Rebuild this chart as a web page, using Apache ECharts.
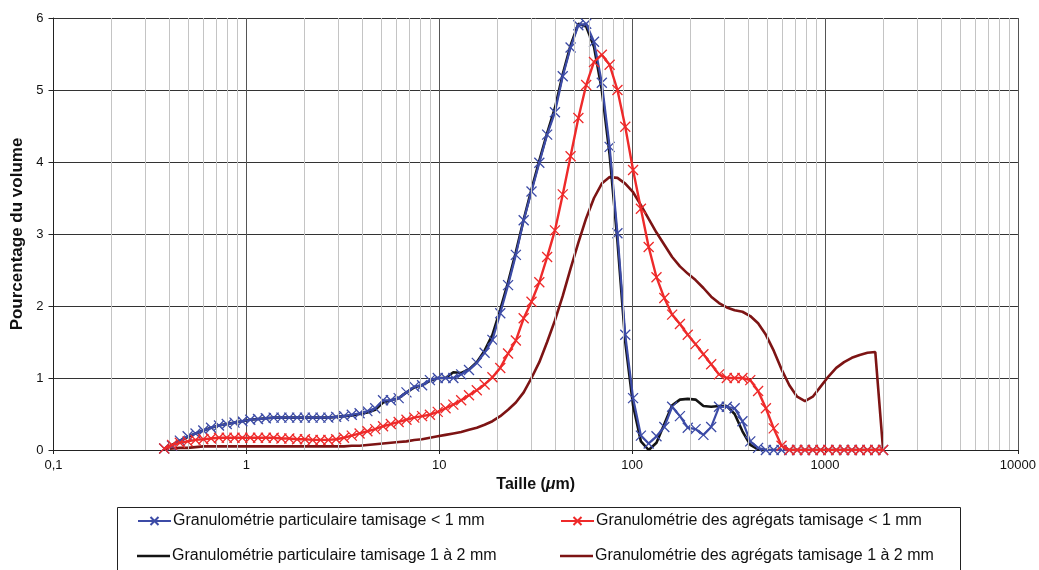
<!DOCTYPE html>
<html>
<head>
<meta charset="utf-8">
<script src="https://cdn.jsdelivr.net/npm/echarts@6/dist/echarts.min.js"></script>
<style>
html,body{margin:0;padding:0;background:#fff;}
#c{width:1039px;height:570px;}
</style>
</head>
<body>
<div id="c"></div>
<script>
// Particle size classes (µm)
var sizes = [
0.375, 0.412, 0.452, 0.496, 0.545, 0.598, 0.656, 0.721, 0.791, 0.868,
0.953, 1.047, 1.149, 1.261, 1.385, 1.520, 1.668, 1.832, 2.011, 2.207,
2.423, 2.660, 2.920, 3.205, 3.519, 3.863, 4.240, 4.655, 5.110, 5.610,
6.158, 6.760, 7.421, 8.147, 8.943, 9.818, 10.78, 11.83, 12.99, 14.26,
15.65, 17.18, 18.86, 20.71, 22.73, 24.95, 27.39, 30.07, 33.01, 36.24,
39.78, 43.67, 47.94, 52.62, 57.77, 63.41, 69.61, 76.42, 83.89, 92.09,
101.1, 111.0, 121.8, 133.7, 146.8, 161.2, 176.9, 194.2, 213.2, 234.1,
256.9, 282.1, 309.6, 339.9, 373.1, 409.6, 449.7, 493.6, 541.9, 594.9,
653.0, 716.8, 786.9, 863.9, 948.3, 1041, 1143, 1255, 1377, 1512,
1660, 1822, 2000
];

// Granulométrie particulaire tamisage < 1 mm
var partLt1 = [
0.02, 0.06, 0.13, 0.19, 0.23, 0.27, 0.31, 0.34, 0.36, 0.38,
0.40, 0.42, 0.43, 0.44, 0.45, 0.45, 0.45, 0.45, 0.45, 0.45,
0.45, 0.45, 0.46, 0.47, 0.49, 0.51, 0.54, 0.58, 0.69, 0.69,
0.72, 0.80, 0.88, 0.90, 0.97, 1.00, 1.00, 1.00, 1.05, 1.11,
1.21, 1.35, 1.53, 1.90, 2.29, 2.71, 3.19, 3.59, 3.99, 4.38,
4.69, 5.19, 5.59, 5.90, 5.92, 5.67, 5.10, 4.21, 3.01, 1.60,
0.72, 0.20, 0.09, 0.19, 0.32, 0.60, 0.47, 0.31, 0.29, 0.21,
0.32, 0.60, 0.60, 0.58, 0.40, 0.12, 0.03, 0, 0, 0,
0, 0, 0, 0, 0, 0, 0, 0, 0, 0,
0, 0, 0
];

// Granulométrie des agrégats tamisage < 1 mm
var aggLt1 = [
0.02, 0.07, 0.10, 0.12, 0.14, 0.15, 0.16, 0.17, 0.17, 0.17,
0.17, 0.17, 0.17, 0.17, 0.17, 0.16, 0.16, 0.15, 0.15, 0.14,
0.14, 0.14, 0.15, 0.17, 0.20, 0.23, 0.26, 0.29, 0.33, 0.36,
0.39, 0.42, 0.45, 0.47, 0.49, 0.53, 0.58, 0.63, 0.69, 0.76,
0.83, 0.91, 1.01, 1.14, 1.34, 1.52, 1.83, 2.06, 2.33, 2.68,
3.05, 3.55, 4.08, 4.61, 5.07, 5.39, 5.49, 5.35, 5.00, 4.49,
3.89, 3.35, 2.82, 2.40, 2.11, 1.88, 1.75, 1.60, 1.47, 1.33,
1.19, 1.05, 1.00, 1.00, 1.00, 0.97, 0.82, 0.58, 0.30, 0.06,
0, 0, 0, 0, 0, 0, 0, 0, 0, 0,
0, 0, 0
];

// Granulométrie particulaire tamisage 1 à 2 mm
var part1to2 = [
0.02, 0.07, 0.13, 0.18, 0.23, 0.27, 0.31, 0.34, 0.36, 0.38,
0.40, 0.42, 0.43, 0.44, 0.45, 0.45, 0.45, 0.45, 0.45, 0.45,
0.45, 0.45, 0.46, 0.47, 0.48, 0.50, 0.52, 0.56, 0.66, 0.69,
0.72, 0.80, 0.87, 0.90, 0.96, 1.00, 1.00, 1.08, 1.07, 1.12,
1.22, 1.38, 1.60, 1.95, 2.33, 2.75, 3.20, 3.62, 4.02, 4.40,
4.75, 5.22, 5.62, 5.92, 5.88, 5.60, 5.00, 4.10, 2.90, 1.50,
0.62, 0.12, 0.00, 0.10, 0.36, 0.62, 0.70, 0.71, 0.70, 0.61,
0.60, 0.61, 0.61, 0.50, 0.26, 0.07, 0.01, 0, 0, 0,
0, 0, 0, 0, 0, 0, 0, 0, 0, 0,
0, 0, 0
];

// Granulométrie des agrégats tamisage 1 à 2 mm
var agg1to2 = [
0.01, 0.02, 0.03, 0.03, 0.04, 0.05, 0.05, 0.05, 0.05, 0.05,
0.05, 0.05, 0.05, 0.05, 0.05, 0.05, 0.05, 0.05, 0.05, 0.05,
0.05, 0.05, 0.05, 0.05, 0.06, 0.06, 0.07, 0.08, 0.09, 0.10,
0.11, 0.12, 0.14, 0.15, 0.17, 0.19, 0.21, 0.23, 0.25, 0.28,
0.31, 0.35, 0.40, 0.47, 0.56, 0.66, 0.80, 1.00, 1.22, 1.50,
1.80, 2.14, 2.52, 2.88, 3.22, 3.50, 3.70, 3.79, 3.78, 3.70,
3.58, 3.40, 3.21, 3.02, 2.85, 2.68, 2.55, 2.45, 2.36, 2.25,
2.13, 2.04, 1.98, 1.94, 1.92, 1.86, 1.76, 1.60, 1.38, 1.12,
0.90, 0.74, 0.68, 0.74, 0.88, 1.02, 1.14, 1.22, 1.28, 1.32,
1.35, 1.36, 0
];

var seriesNames = [
  'Granulométrie particulaire tamisage < 1 mm',
  'Granulométrie des agrégats tamisage < 1 mm',
  'Granulométrie particulaire tamisage 1 à 2 mm',
  'Granulométrie des agrégats tamisage 1 à 2 mm'
];

// Minor (2..9) grid values on the log axis
var minorGridValues = [
0.2,0.3,0.4,0.5,0.6,0.7,0.8,0.9,
2,3,4,5,6,7,8,9,
20,30,40,50,60,70,80,90,
200,300,400,500,600,700,800,900,
2000,3000,4000,5000,6000,7000,8000,9000
];

function pairs(vals){ return sizes.map(function(s,i){ return [s, vals[i]]; }); }

var FONT = '"Liberation Sans", Arial, sans-serif';
var XSYM = 'path://M0,0L10,10M10,0L0,10';
// plain line icon (tiny corner points keep the full 33x10 box)
var LINEICON = 'path://M0,0L0.01,0L0,0.01Z M0,3.7L33,3.7L33,6.3L0,6.3Z M33,10L32.99,10L33,9.99Z';
var cBlue = '#3c4ba6', cRed = '#ee2a2a', cBlack = '#141414', cDark = '#7d1414';

var chart = echarts.init(document.getElementById('c'), null, {renderer:'canvas'});
var legendText = {fontFamily: FONT, fontSize: 16, color: '#111', padding: [0,0,0,-3]};
function mkLegend(item, left, top){
  return {data: [item], left: left, top: top, orient: 'horizontal',
    itemWidth: 33, itemHeight: 10, itemGap: 0, padding: 0, selectedMode: false,
    textStyle: legendText};
}
var option = {
  animation: false,
  backgroundColor: '#fff',
  textStyle: {fontFamily: FONT},
  grid: {left: 53.5, right: 19, top: 18, bottom: 120, containLabel: false},
  xAxis: {
    type: 'log', logBase: 10, min: 0.1, max: 10000,
    name: 'Taille ({i|μ}m)', nameLocation: 'middle', nameGap: 18,
    nameTextStyle: {fontFamily: FONT, fontSize: 16, fontWeight: 'bold', color: '#111',
      rich: {i: {fontFamily: FONT, fontSize: 16, fontWeight: 'bold', fontStyle: 'italic', color: '#111'}}},
    axisLine: {show: true, onZero: false, lineStyle: {color: '#222', width: 1}},
    axisTick: {show: true, inside: false, length: 4, lineStyle: {color: '#222'}},
    axisLabel: {fontFamily: FONT, fontSize: 13, color: '#111', margin: 9,
      formatter: function(v){ return String(v).replace('.', ','); }},
    splitLine: {show: true, lineStyle: {color: '#555', width: 1}}
  },
  yAxis: {
    type: 'value', min: 0, max: 6, interval: 1,
    name: 'Pourcentage du volume', nameLocation: 'middle', nameGap: 27, nameRotate: 90,
    nameTextStyle: {fontFamily: FONT, fontSize: 17, fontWeight: 'bold', color: '#111'},
    axisLine: {show: true, lineStyle: {color: '#222', width: 1}},
    axisTick: {show: true, inside: false, length: 5, lineStyle: {color: '#222'}},
    axisLabel: {fontFamily: FONT, fontSize: 13, color: '#111', margin: 10},
    splitLine: {show: true, lineStyle: {color: '#333', width: 1}}
  },
  legend: [
    mkLegend({name: seriesNames[0]}, 137, 513),
    mkLegend({name: seriesNames[1]}, 560, 513),
    mkLegend({name: seriesNames[2], icon: LINEICON}, 137, 548),
    mkLegend({name: seriesNames[3], icon: LINEICON}, 560, 548)
  ],
  graphic: [{
    type: 'rect', left: 115, top: 505, silent: true,
    shape: {x: 0, y: 0, width: 843, height: 80},
    style: {fill: 'none', stroke: '#222', lineWidth: 1}
  }],
  series: [
    {
      name: 'minor-grid', type: 'line', data: [], z: 1, silent: true,
      markLine: {
        silent: true, symbol: ['none','none'], label: {show: false},
        lineStyle: {color: '#c4c4c4', type: 'solid', width: 1},
        emphasis: {disabled: true},
        data: minorGridValues.map(function(v){ return {xAxis: v}; })
      }
    },
    {
      name: seriesNames[3], type: 'line', data: pairs(agg1to2), z: 2,
      showSymbol: false, symbol: 'none', smooth: false,
      lineStyle: {color: cDark, width: 2.6}, itemStyle: {color: cDark}
    },
    {
      name: seriesNames[2], type: 'line', data: pairs(part1to2), z: 3,
      showSymbol: false, symbol: 'none', smooth: false,
      lineStyle: {color: cBlack, width: 2.6}, itemStyle: {color: cBlack}
    },
    {
      name: seriesNames[0], type: 'line', data: pairs(partLt1), z: 4,
      symbol: XSYM, symbolSize: 10, showAllSymbol: true,
      lineStyle: {color: cBlue, width: 2.2},
      itemStyle: {color: cBlue, borderColor: cBlue, borderWidth: 1.3}
    },
    {
      name: seriesNames[1], type: 'line', data: pairs(aggLt1), z: 5,
      symbol: XSYM, symbolSize: 10, showAllSymbol: true,
      lineStyle: {color: cRed, width: 2.4},
      itemStyle: {color: cRed, borderColor: cRed, borderWidth: 1.3}
    }
  ]
};
chart.setOption(option);
</script>
</body>
</html>
